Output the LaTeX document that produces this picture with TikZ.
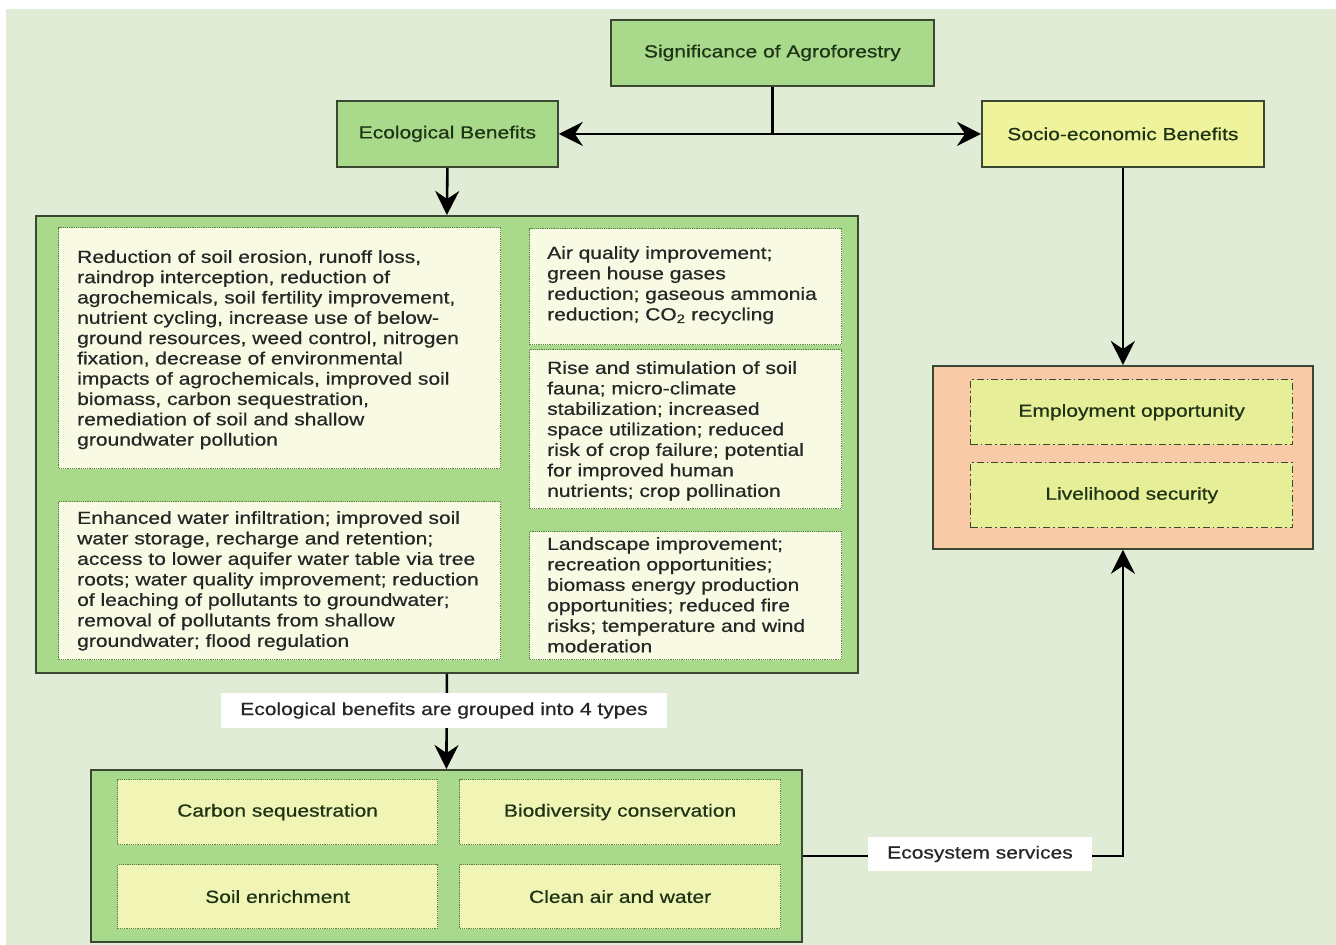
\documentclass[tikz,border=0pt]{standalone}
\usepackage{fontspec}
\setmainfont{Liberation Sans}[FakeStretch=1.2]
\newfontfamily\dfont{Liberation Sans}[FakeStretch=1.2,FakeBold=0.6]
\usetikzlibrary{arrows.meta}
\definecolor{bgc}{HTML}{E1ECD6}
\definecolor{greenfill}{HTML}{A9D98B}
\definecolor{socfill}{HTML}{EEF39C}
\definecolor{orangefill}{HTML}{F8CBA6}
\definecolor{empfill}{HTML}{E6EE98}
\definecolor{creamfill}{HTML}{F9FAE3}
\definecolor{typefill}{HTML}{F0F4B4}
\definecolor{boxline}{HTML}{3A4733}
\definecolor{dotline}{HTML}{5E7E4A}
\definecolor{headtext}{HTML}{1E3314}
\definecolor{bodytext}{HTML}{262626}
\tikzset{
  basebox/.style={anchor=north west, inner sep=0pt, line width=1.8pt, draw=boxline},
  greenbox/.style={basebox, fill=greenfill},
  socbox/.style={basebox, fill=socfill},
  orangebox/.style={basebox, fill=orangefill},
  creambox/.style={anchor=north west, inner sep=0pt, fill=creamfill, draw=dotline, line width=1.2pt, densely dotted},
  typebox/.style={anchor=north west, inner sep=0pt, fill=typefill, draw=dotline, line width=1.2pt, densely dotted, text=headtext, font=\dfont\fontsize{17.5}{20.5}\selectfont},
  empbox/.style={anchor=north west, inner sep=0pt, fill=empfill, draw=boxline, line width=1.4pt, dash pattern=on 7pt off 3pt on 1.5pt off 3pt, text=headtext, font=\dfont\fontsize{17.5}{20.5}\selectfont},
  headfont/.style={text=headtext, font=\dfont\fontsize{17.5}{20.5}\selectfont},
  bodyblock/.style={anchor=north west, inner sep=0pt, align=left, text=bodytext, font=\dfont\fontsize{17.5}{#1}\selectfont},
  bodyblock/.default={20.5},
  labelbox/.style={fill=white, inner sep=0pt, text=bodytext, font=\dfont\fontsize{17.5}{20.5}\selectfont},
  conn/.style={line width=2.6pt, draw=black},
  arr/.style={conn, -{Stealth[length=24pt,width=24pt,inset=8pt]}},
}
\begin{document}
\begin{tikzpicture}[x=1pt,y=-1pt]
\useasboundingbox (0,0) rectangle (1336,945);
\fill[white] (0,0) rectangle (1336,945);
\fill[bgc] (6,9) rectangle (1336,945);

% top row
\node[greenbox, headfont, minimum width=323pt, minimum height=66pt] (sig) at (610,19) {Significance of Agroforestry};
\node[greenbox, headfont, minimum width=221pt, minimum height=66pt] (eco) at (336,100) {Ecological Benefits};
\node[socbox, headfont, minimum width=282pt, minimum height=66pt] (soc) at (981,100) {Socio-economic Benefits};

% big ecological box
\node[greenbox, minimum width=822pt, minimum height=457pt] (big) at (35,215) {};
\node[creambox, minimum width=442pt, minimum height=241pt] (A) at (58,227) {};
\node[creambox, minimum width=442pt, minimum height=158pt] (B) at (58,501) {};
\node[creambox, minimum width=312pt, minimum height=116pt] (C) at (529,228) {};
\node[creambox, minimum width=312pt, minimum height=159pt] (D) at (529,349) {};
\node[creambox, minimum width=312pt, minimum height=128pt] (E) at (529,531) {};

\node[bodyblock=20.3] (Atext) at (77,250) {Reduction of soil erosion, runoff loss,\\
raindrop interception, reduction of\\
agrochemicals, soil fertility improvement,\\
nutrient cycling, increase use of below-\\
ground resources, weed control, nitrogen\\
fixation, decrease of environmental\\
impacts of agrochemicals, improved soil\\
biomass, carbon sequestration,\\
remediation of soil and shallow\\
groundwater pollution};
\node[bodyblock] (Btext) at (77,511) {Enhanced water infiltration; improved soil\\
water storage, recharge and retention;\\
access to lower aquifer water table via tree\\
roots; water quality improvement; reduction\\
of leaching of pollutants to groundwater;\\
removal of pollutants from shallow\\
groundwater; flood regulation};
\node[bodyblock] (Ctext) at (547,246) {Air quality improvement;\\
green house gases\\
reduction; gaseous ammonia\\
reduction; CO\textsubscript{2} recycling};
\node[bodyblock] (Dtext) at (547,361) {Rise and stimulation of soil\\
fauna; micro-climate\\
stabilization; increased\\
space utilization; reduced\\
risk of crop failure; potential\\
for improved human\\
nutrients; crop pollination};
\node[bodyblock] (Etext) at (547,537) {Landscape improvement;\\
recreation opportunities;\\
biomass energy production\\
opportunities; reduced fire\\
risks; temperature and wind\\
moderation};

% socio-economic outcomes
\node[orangebox, minimum width=380pt, minimum height=183pt] (orange) at (932,365) {};
\node[empbox, minimum width=322pt, minimum height=65pt] (emp) at (970,379) {Employment opportunity};
\node[empbox, minimum width=322pt, minimum height=65pt] (live) at (970,462) {Livelihood security};

% four types
\node[greenbox, minimum width=711pt, minimum height=172pt] (types) at (90,769) {};
\node[typebox, minimum width=320pt, minimum height=65pt] (carbon) at (117,779) {Carbon sequestration};
\node[typebox, minimum width=321pt, minimum height=65pt] (bio) at (459,779) {Biodiversity conservation};
\node[typebox, minimum width=320pt, minimum height=64pt] (soil) at (117,864) {Soil enrichment};
\node[typebox, minimum width=321pt, minimum height=64pt] (clean) at (459,864) {Clean air and water};

% connectors
\coordinate (junc) at (sig.south |- eco.east);
\draw[conn] (sig.south) -- (junc);
\draw[arr] (junc) -- (eco.east);
\draw[arr] (junc) -- (junc -| soc.west);
\draw[arr] (eco.south) -- (big.north);
\draw[arr] (soc.south) -- (orange.north);
\draw[arr] (big.south) -- (types.north);
\draw[arr] (types.east) -| (orange.south);

% labels on connectors
\node[labelbox, minimum width=446pt, minimum height=35pt] (lab1) at (444,710.5) {Ecological benefits are grouped into 4 types};
\node[labelbox, minimum width=224pt, minimum height=34pt] (lab2) at (980,854) {Ecosystem services};
\end{tikzpicture}
\end{document}
